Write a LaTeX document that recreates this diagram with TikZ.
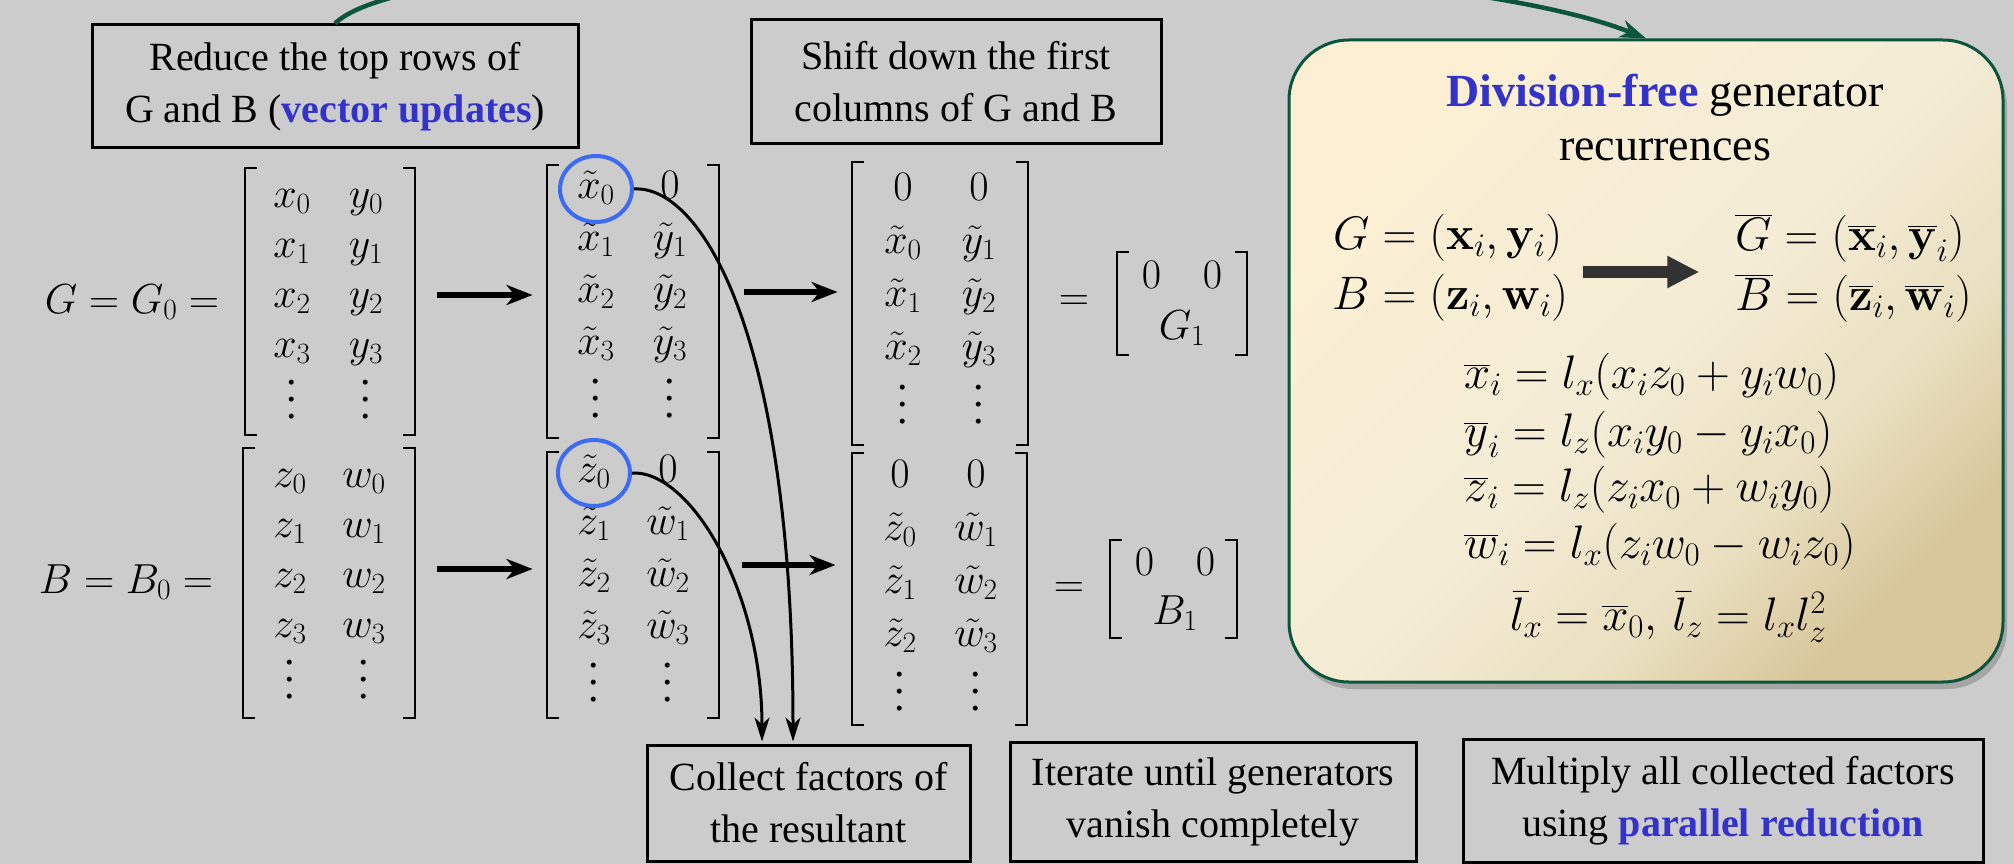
\RequirePackage{fix-cm}
\documentclass[tikz,border=0pt]{standalone}
\usepackage{amsmath}
\usepackage[no-math]{fontspec}
\setmainfont{Liberation Serif}
\usetikzlibrary{arrows.meta,matrix,shadows,calc,shapes.geometric}
\definecolor{bg}{RGB}{204,204,204}
\definecolor{hlblue}{RGB}{51,51,204}
\definecolor{cblue}{RGB}{61,107,242}
\definecolor{dgreen}{RGB}{10,85,60}
\definecolor{cream}{RGB}{252,239,212}
\definecolor{creammid}{RGB}{244,236,213}
\definecolor{creamlow}{RGB}{234,224,193}
\definecolor{tanc}{RGB}{216,199,156}
\definecolor{arrgray}{RGB}{50,50,50}
\pgfdeclareverticalshading{rboxshade}{100bp}{color(0bp)=(tanc); color(25bp)=(tanc); color(36bp)=(creamlow); color(50bp)=(creammid); color(75bp)=(cream); color(100bp)=(cream)}
\newcommand{\hl}[1]{\textcolor{hlblue}{\textbf{#1}}}
\newcommand{\mvdots}{\lower0.25em\vbox{\baselineskip=0.4em\lineskiplimit=-10pt\kern0.5em\hbox{.}\hbox{.}\hbox{.}}}
\newcommand{\mbrackets}[4]{%
  \draw[brk] ({#1+12},#3) -| (#1,#4) -- ({#1+12},#4);
  \draw[brk] ({#2-12},#3) -| (#2,#4) -- ({#2-12},#4);}
\tikzset{
  txtbox/.style={draw=black, line width=3pt, align=center, inner sep=0pt,
    font=\fontsize{40}{52}\selectfont},
  mfont/.style={inner sep=0pt, font=\fontsize{42}{50}\selectfont},
  mat/.style 2 args={matrix of math nodes, row sep=0pt, column sep=0pt,
    nodes={inner sep=0pt, minimum width=#2, minimum height=#1,
      text height=30pt, text depth=11pt, anchor=center,
      font=\fontsize{42}{50}\selectfont}},
  brk/.style={line width=2.6pt},
  bigarrow/.style={line width=5.5pt, -{Stealth[length=26pt,width=20pt,inset=8pt]}},
  collect/.style={line width=3pt, -{Stealth[length=24pt,width=15pt,inset=7pt]}},
  garrow/.style={draw=dgreen, line width=4.5pt, -{Stealth[length=26pt,width=18pt,inset=8pt]}},
  fatarrow/.style={draw=arrgray, line width=12pt, -{Triangle[length=32pt,width=30pt]}},
  ring/.style={draw=cblue, line width=4pt, ellipse, minimum width=72pt, minimum height=66pt, inner sep=0pt},
  eqfont/.style={inner sep=0pt, font=\fontsize{47}{56}\selectfont},
  rbox/.style={draw=dgreen, line width=3pt, rounded corners=60pt,
    shading=rboxshade, shading angle=45,
    drop shadow={shadow xshift=4pt, shadow yshift=-7pt, opacity=0.3, fill=black!70}},
}
\begin{document}
\begin{tikzpicture}[x=1pt,y=-1pt]
\fill[bg] (0,0) rectangle (2014,864);
\useasboundingbox (0,0) rectangle (2014,864);

% right rounded box
\node[rbox, minimum width=714pt, minimum height=642pt] (rbox) at (1646,361) {};

% text boxes
\node[txtbox, minimum width=486pt, minimum height=123pt] (reduce) at (335,86.5)
  {Reduce the top rows of\\G and B (\hl{vector updates})};
\node[txtbox, minimum width=410pt, minimum height=124pt] (shift) at (956,82)
  {Shift down the first\\columns of G and B};
\node[txtbox, minimum width=323pt, minimum height=116pt] (cbox) at (808.5,803)
  {Collect factors of\\the resultant};
\node[txtbox, minimum width=406pt, minimum height=119pt] (ibox) at (1213,801.5)
  {Iterate until generators\\vanish completely};
\node[txtbox, minimum width=520pt, minimum height=123pt] (mbox) at (1723,800.5)
  {Multiply all collected factors\\using \hl{parallel reduction}};

% labels
\node[mfont] (lG) at (132,302) {$G = G_0 =$};
\node[mfont] (lB) at (126,582) {$B = B_0 =$};

% matrices
\matrix (mG) [mat={50pt}{74pt}] at (329,298) {
  x_0 & y_0\\ x_1 & y_1\\ x_2 & y_2\\ x_3 & y_3\\ \mvdots & \mvdots\\};
\matrix (mGt) [mat={52pt}{74pt}] at (633,293) {
  \tilde{x}_0 & 0\\ \tilde{x}_1 & \tilde{y}_1\\ \tilde{x}_2 & \tilde{y}_2\\ \tilde{x}_3 & \tilde{y}_3\\ \mvdots & \mvdots\\};
\matrix (mGs) [mat={53pt}{76pt}] at (941,297) {
  0 & 0\\ \tilde{x}_0 & \tilde{y}_1\\ \tilde{x}_1 & \tilde{y}_2\\ \tilde{x}_2 & \tilde{y}_3\\ \mvdots & \mvdots\\};
\matrix (mB) [mat={50pt}{74pt}] at (327,578) {
  z_0 & w_0\\ z_1 & w_1\\ z_2 & w_2\\ z_3 & w_3\\ \mvdots & \mvdots\\};
\matrix (mBt) [mat={52pt}{74pt}] at (631,577) {
  \tilde{z}_0 & 0\\ \tilde{z}_1 & \tilde{w}_1\\ \tilde{z}_2 & \tilde{w}_2\\ \tilde{z}_3 & \tilde{w}_3\\ \mvdots & \mvdots\\};
\matrix (mBs) [mat={53pt}{76pt}] at (938,584) {
  0 & 0\\ \tilde{z}_0 & \tilde{w}_1\\ \tilde{z}_1 & \tilde{w}_2\\ \tilde{z}_2 & \tilde{w}_3\\ \mvdots & \mvdots\\};

\mbrackets{245}{415}{168}{435}
\mbrackets{547}{719}{165}{438}
\mbrackets{852}{1028}{162}{445}
\mbrackets{243}{415}{448}{718}
\mbrackets{547}{719}{452}{718}
\mbrackets{852}{1027}{453}{725}

% equals and block matrices
\node[mfont] (eqa) at (1074,303) {$=$};
\node[mfont] (g1top) at (1182,275) {$0\quad 0$};
\node[mfont] (g1) at (1182,328) {$G_1$};
\mbrackets{1117}{1247}{252}{355}
\node[mfont] (eqb) at (1069,590) {$=$};
\node[mfont] (b1top) at (1175,562) {$0\quad 0$};
\node[mfont] (b1) at (1175,613) {$B_1$};
\mbrackets{1110}{1237}{540}{638}

% arrows between matrices
\draw[bigarrow] ([xshift=30pt,yshift=3pt]mG.east) -- ++(96,0);
\draw[bigarrow] ([xshift=33pt,yshift=1pt]mGt.east) -- ++(94,0);
\draw[bigarrow] ([xshift=32pt,yshift=9pt]mB.east) -- ++(96,0);
\draw[bigarrow] ([xshift=33pt,yshift=12pt]mBt.east) -- ++(94,0);

% circles and collect arrows
\node[ring] (cx) at (mGt-1-1) {};
\node[ring] (cz) at (mBt-1-1) {};
\coordinate (tip1) at ([xshift=-15.5pt,yshift=2pt]cbox.north);
\coordinate (tip2) at ([xshift=-46.5pt,yshift=2pt]cbox.north);
\draw[collect] (cx.east) .. controls (700,185) and (793,330) .. (tip1);
\draw[collect] (cz.east) .. controls (690,470) and (762,590) .. (tip2);

% green arrow
\draw[garrow] (reduce.north) .. controls (430,-70) and (1400,-60) .. (rbox.north);

% right box content
\node[inner sep=0pt, font=\fontsize{46}{56}\selectfont] (t1) at (1665,95) {\hl{Division-free} generator};
\node[inner sep=0pt, font=\fontsize{46}{56}\selectfont] (t2) at (1665,150) {recurrences};
\node[eqfont, anchor=west] (eqG) at (1333,238) {$G = (\mathbf{x}_i, \mathbf{y}_i)$};
\node[eqfont, anchor=west] (eqB) at (1332,298) {$B = (\mathbf{z}_i, \mathbf{w}_i)$};
\node[eqfont, anchor=west] (eqGb) at (1735,238) {$\overline{G} = (\overline{\mathbf{x}}_i, \overline{\mathbf{y}}_i)$};
\node[eqfont, anchor=west] (eqBb) at (1735,298) {$\overline{B} = (\overline{\mathbf{z}}_i, \overline{\mathbf{w}}_i)$};
\draw[fatarrow] ($(eqG.east)!0.5!(eqB.east)+(18,4)$) -- ++(116,0);
\node[eqfont, anchor=west] (r1) at (1464,377) {$\overline{x}_i = l_x(x_i z_0 + y_i w_0)$};
\node[eqfont, anchor=west] (r2) at (1464,435) {$\overline{y}_i = l_z(x_i y_0 - y_i x_0)$};
\node[eqfont, anchor=west] (r3) at (1464,490) {$\overline{z}_i = l_z(z_i x_0 + w_i y_0)$};
\node[eqfont, anchor=west] (r4) at (1464,547) {$\overline{w}_i = l_x(z_i w_0 - w_i z_0)$};
\node[eqfont] (r5) at (1668,617) {$\bar{l}_x = \overline{x}_0,\, \bar{l}_z = l_x l_z^2$};
\end{tikzpicture}
\end{document}
